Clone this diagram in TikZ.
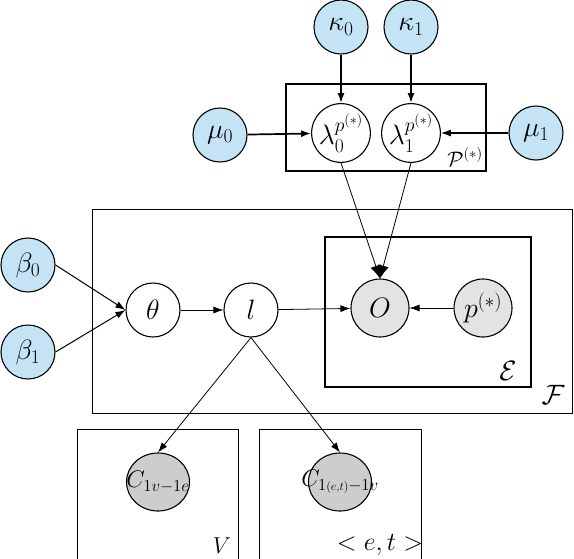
\documentclass[tikz,border=0pt]{standalone}
\usepackage{fix-cm}
\usepackage{amsmath,amssymb}
\usepackage{xcolor}
\usepackage{tikz}
\usetikzlibrary{arrows.meta,positioning,shapes.geometric}

\definecolor{hypblue}{RGB}{196,228,246}
\definecolor{obsgray}{RGB}{227,227,227}
\definecolor{cntgray}{RGB}{205,205,205}

\begin{document}
\begin{tikzpicture}[x=1pt, y=-1pt,
  font=\fontsize{28}{33}\selectfont, >={Latex[length=10pt,width=7pt]},
  var/.style={circle, draw, line width=1.1pt, minimum size=54pt, inner sep=0pt},
  hyp/.style={var, fill=hypblue},
  obs/.style={var, fill=obsgray, minimum size=58pt},
  cnt/.style={ellipse, draw, line width=1.1pt, fill=cntgray, minimum width=63pt, minimum height=58pt, inner sep=0pt, font=\fontsize{24}{28}\selectfont},
  plate/.style={draw, line width=0.8pt},
  bigplate/.style={draw, line width=2pt},
  edge/.style={->, line width=0.8pt},
  thickedge/.style={->, line width=1.7pt}]
  \useasboundingbox (0,0) rectangle (574,558);
  \draw[bigplate] (286,84) rectangle (486,171);
  \draw[plate] (92,209) rectangle (572,413);
  \draw[bigplate] (325,237) rectangle (531,387);
  \draw[plate] (77,429) rectangle (238,575);
  \draw[plate] (259,429) rectangle (421,575);
  \node[hyp] (k0) at (341,27) {$\kappa_0$};
  \node[hyp] (k1) at (411,27) {$\kappa_1$};
  \node[hyp] (m0) at (220,135) {$\mu_0$};
  \node[hyp] (m1) at (536,133) {$\mu_1$};
  \node[var] (lam0) at (341,133) {$\lambda_0^{p^{(*)}}$};
  \node[var] (lam1) at (411,133) {$\lambda_1^{p^{(*)}}$};
  \node[hyp] (b0) at (28,265) {$\beta_0$};
  \node[hyp] (b1) at (28,352) {$\beta_1$};
  \node[var] (th) at (153,310) {$\theta$};
  \node[var] (l) at (251,310) {$l$};
  \node[obs] (o) at (380,308) {$O$};
  \node[obs] (ps) at (483,308) {$p^{(*)}$};
  \node[cnt] (cv) at (158,482) {\makebox[0pt]{$C_{1v-1e}$}};
  \node[cnt] (cet) at (340,482) {\makebox[0pt]{$C_{1{\scriptscriptstyle(e,t)}-1v}$}};
  \node[font=\fontsize{21}{25}\selectfont] (plbl) at (465,157) {$\mathcal{P}^{(*)}$};
  \node (elbl) at (508,371) {$\mathcal{E}$};
  \node (flbl) at (553,395) {$\mathcal{F}$};
  \node[font=\fontsize{23}{27}\selectfont] (vlbl) at (222,546) {$V$};
  \node[font=\fontsize{26}{31}\selectfont] (etlbl) at (380,545) {$<e,t>$};
  \draw[thickedge] (k0) -- (lam0);
  \draw[thickedge] (k1) -- (lam1);
  \draw[thickedge] (m0) -- (lam0);
  \draw[edge, line width=1.1pt] (m1) -- (lam1);
  \draw[edge, >={Latex[length=13pt,width=11pt]}] (lam0.south) -- (o.north);
  \draw[edge, >={Latex[length=13pt,width=11pt]}] (lam1.south) -- (o.north);
  \draw[edge, line width=1pt] (b0.east) -- (th.west);
  \draw[edge, line width=1pt] (b1.east) -- (th.west);
  \draw[edge] (th) -- (l);
  \draw[edge] (l) -- (o);
  \draw[edge] (ps) -- (o);
  \draw[edge] (l.south) -- (cv.north);
  \draw[edge] (l.south) -- (cet.north);
\end{tikzpicture}
\end{document}
